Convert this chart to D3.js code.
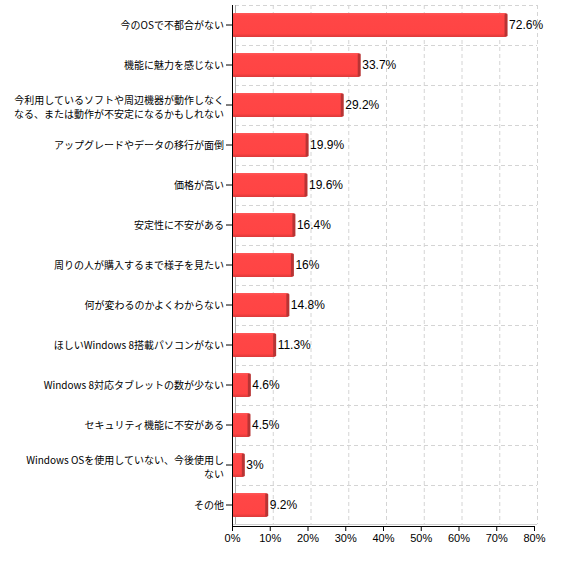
<!DOCTYPE html>
<html>
<head>
<meta charset="utf-8">
<script src="https://cdn.jsdelivr.net/npm/d3@7/dist/d3.min.js"></script>
<style>
  html, body { margin: 0; padding: 0; background: #ffffff; }
  svg { display: block; }
</style>
</head>
<body>
<svg id="chart" width="571" height="561"></svg>
<script>
// ---- data ----
const categories = [
  "今のOSで不都合がない",
  "機能に魅力を感じない",
  "今利用しているソフトや周辺機器が動作しなく\nなる、または動作が不安定になるかもしれない",
  "アップグレードやデータの移行が面倒",
  "価格が高い",
  "安定性に不安がある",
  "周りの人が購入するまで様子を見たい",
  "何が変わるのかよくわからない",
  "ほしいWindows 8搭載パソコンがない",
  "Windows 8対応タブレットの数が少ない",
  "セキュリティ機能に不安がある",
  "Windows OSを使用していない、今後使用し\nない",
  "その他"
];
const values = [72.6, 33.7, 29.2, 19.9, 19.6, 16.4, 16, 14.8, 11.3, 4.6, 4.5, 3, 9.2];
const valueLabels = ["72.6%", "33.7%", "29.2%", "19.9%", "19.6%", "16.4%", "16%", "14.8%", "11.3%", "4.6%", "4.5%", "3%", "9.2%"];
const xTicks = [0, 10, 20, 30, 40, 50, 60, 70, 80];

// ---- layout ----
const svg = d3.select("#chart");
const mLeft = 232, mRight = 534, mTop = 5, mBottom = 525;
const depth = 3;

const x = d3.scaleLinear().domain([0, 80]).range([mLeft, mRight]);
const y = d3.scaleBand().domain(categories).range([mTop, mBottom])
  .paddingInner(0.4).paddingOuter(0.2);

const defs = svg.append("defs");
const grad = defs.append("linearGradient").attr("id", "face")
  .attr("x1", 0).attr("y1", 0).attr("x2", 0).attr("y2", 1);
grad.append("stop").attr("offset", "0%").attr("stop-color", "#ff5858");
grad.append("stop").attr("offset", "12%").attr("stop-color", "#ff4646");
grad.append("stop").attr("offset", "85%").attr("stop-color", "#ff4444");
grad.append("stop").attr("offset", "100%").attr("stop-color", "#dc3a3a");

// back wall gridlines
const grid = svg.append("g");
const step = y.step();
for (let k = 0; k <= categories.length - 1; k++) {
  grid.append("line")
    .attr("x1", mLeft + depth).attr("x2", x(80) + depth)
    .attr("y1", mTop + k * step + 0.5).attr("y2", mTop + k * step + 0.5)
    .attr("stroke", "#d4d4d4").attr("stroke-dasharray", "4,3");
}
xTicks.filter(t => t > 0).forEach(t => {
  grid.append("line")
    .attr("x1", x(t) + depth + 0.5).attr("x2", x(t) + depth + 0.5)
    .attr("y1", mTop).attr("y2", mBottom - 1)
    .attr("stroke", "#d4d4d4").attr("stroke-dasharray", "4,3");
});
// wall / floor edges
grid.append("line").attr("x1", mLeft + depth + 0.5).attr("x2", mLeft + depth + 0.5)
  .attr("y1", mTop).attr("y2", mBottom - 1).attr("stroke", "#a8a8a8");
grid.append("line").attr("x1", mLeft).attr("x2", x(80) + depth)
  .attr("y1", mBottom - 0.5).attr("y2", mBottom - 0.5).attr("stroke", "#d0d0d0");

// bars
const bars = svg.append("g").selectAll("g").data(categories).join("g");
bars.append("rect")
  .attr("x", x(0) + 0.5)
  .attr("y", d => y(d))
  .attr("width", (d, i) => Math.max(0, x(values[i]) - x(0)))
  .attr("height", y.bandwidth())
  .attr("rx", 1.5)
  .attr("fill", "url(#face)");
bars.append("rect")
  .attr("x", (d, i) => x(values[i]) - 1.5)
  .attr("y", d => y(d) + 0.5)
  .attr("width", 3)
  .attr("height", y.bandwidth() - 1)
  .attr("rx", 1.2)
  .attr("fill", "#b83434");

// value labels
bars.append("text")
  .attr("x", (d, i) => x(values[i]) + 3)
  .attr("y", d => y(d) + y.bandwidth() / 2)
  .attr("dy", "0.36em")
  .attr("font-family", "'Liberation Sans', Arial, sans-serif")
  .attr("font-size", 12)
  .attr("fill", "#000")
  .text((d, i) => valueLabels[i]);

// y axis
const yAxis = svg.append("g").attr("transform", `translate(${mLeft},0)`)
  .call(d3.axisLeft(y).tickSize(6).tickPadding(2).tickFormat(() => ""));
yAxis.select(".domain").attr("d", `M0.5,${mTop}V${mBottom + 1}`).attr("stroke", "#000");
yAxis.selectAll(".tick line").attr("stroke", "#000");
yAxis.selectAll(".tick").each(function (d) {
  const lines = d.split("\n");
  const t = d3.select(this).append("text")
    .attr("text-anchor", "end")
    .attr("font-family", "'Noto Sans CJK JP', sans-serif")
    .attr("font-size", 10)
    .attr("fill", "#000");
  if (lines.length === 1) {
    t.append("tspan").attr("x", -8).attr("y", 0).attr("dy", "0.4em").text(lines[0]);
  } else {
    t.append("tspan").attr("x", -8).attr("y", -5).attr("dy", "0.4em").text(lines[0]);
    t.append("tspan").attr("x", -8).attr("y", 9).attr("dy", "0.4em").text(lines[1]);
  }
});

// x axis
const xAxis = svg.append("g").attr("transform", `translate(0,${mBottom + 1})`)
  .call(d3.axisBottom(x).tickValues(xTicks).tickSize(5).tickPadding(3).tickFormat(d => d + "%"));
xAxis.select(".domain").attr("stroke", "#000").attr("d", `M${mLeft + 0.5},0.5H${mRight + 0.5}`);
xAxis.selectAll(".tick line").attr("stroke", "#000");
xAxis.selectAll(".tick text")
  .attr("font-family", "'Liberation Sans', Arial, sans-serif")
  .attr("font-size", 11)
  .attr("fill", "#000");
</script>
</body>
</html>
